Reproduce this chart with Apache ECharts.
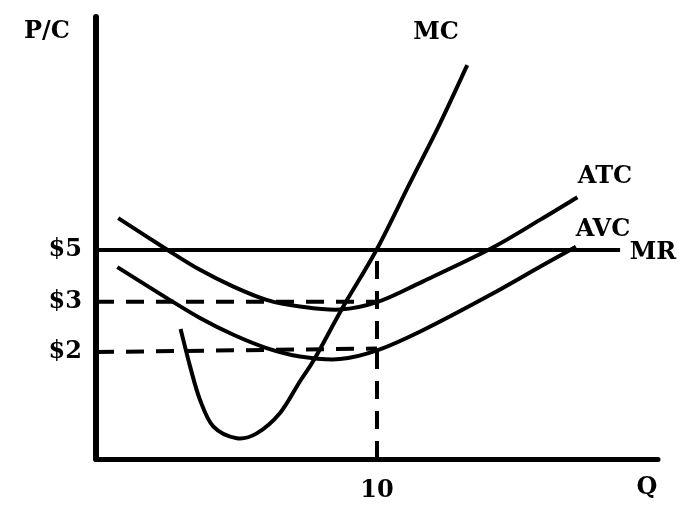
<!DOCTYPE html>
<html>
<head>
<meta charset="utf-8">
<script src="https://cdn.jsdelivr.net/npm/echarts@6/dist/echarts.min.js"></script>
<style>html,body{margin:0;padding:0;background:#fff;}#c{width:697px;height:526px;}</style>
</head>
<body>
<div id="c"></div>
<script>
// Schematic cost diagram: Q in units 0..20, cost level in schematic units 0..10
const mcQ  = [3.01, 3.35, 3.70, 4.18, 5.01, 5.72, 6.55, 7.26, 7.79, 8.80, 9.99, 11.17, 12.24, 13.21];
const mcC  = [2.94, 2.09, 1.34, 0.73, 0.47, 0.58, 1.04, 1.76, 2.28, 3.45, 4.74, 6.24, 7.59, 8.91];
const atcQ = [0.79, 2.52, 3.70, 4.89, 6.07, 7.26, 8.68, 10.05, 11.64, 14.02, 15.80, 17.13];
const atcC = [5.45, 4.74, 4.28, 3.90, 3.60, 3.45, 3.38, 3.56, 4.02, 4.75, 5.41, 5.92];
const avcQ = [0.76, 2.52, 3.70, 4.89, 6.07, 7.26, 8.68, 10.05, 11.65, 14.02, 15.80, 17.08];
const avcC = [4.34, 3.64, 3.19, 2.81, 2.51, 2.32, 2.26, 2.47, 2.92, 3.71, 4.35, 4.80];
const mrQ  = [0, 18.65];
const mrC  = [4.73, 4.73];
const p3Q  = [0, 10];
const p3C  = [3.56, 3.56];
const p2Q  = [0, 10];
const p2C  = [2.42, 2.50];
const q10Q = [10, 10];
const q10C = [0, 4.73];
const priceLevels = [4.73, 3.56, 2.43];
const priceLabels = ['$5', '$3', '$2'];
const qTicks = [10];
const qLabels = ['10'];

const zip = (a, b) => a.map((v, i) => [v, b[i]]);
const FONT = 'DejaVu Serif';

// Smooth curve through the data points, positioned with the chart's own scales (api.coord)
const curve = (name, q, c) => ({
  name, type: 'custom', silent: true, clip: false,
  data: [[q[0], c[0]]],
  renderItem: (params, api) => {
    const pts = q.map((v, i) => api.coord([v, c[i]]));
    let d = 'M' + pts[0][0] + ',' + pts[0][1];
    const t = 1 / 6;
    for (let i = 0; i < pts.length - 1; i++) {
      const p0 = pts[i - 1] || pts[i], p1 = pts[i], p2 = pts[i + 1], p3 = pts[i + 2] || pts[i + 1];
      const c1x = p1[0] + (p2[0] - p0[0]) * t, c1y = p1[1] + (p2[1] - p0[1]) * t;
      const c2x = p2[0] - (p3[0] - p1[0]) * t, c2y = p2[1] - (p3[1] - p1[1]) * t;
      d += ' C' + c1x + ',' + c1y + ' ' + c2x + ',' + c2y + ' ' + p2[0] + ',' + p2[1];
    }
    return {
      type: 'path',
      shape: { pathData: d },
      style: { fill: null, stroke: '#000', lineWidth: 4 }
    };
  }
});
const straight = (name, q, c) => ({
  name, type: 'line', data: zip(q, c), showSymbol: false, symbol: 'none',
  lineStyle: { color: '#000', width: 4, type: 'solid' }, silent: true
});
const dashed = (name, q, c) => ({
  name, type: 'line', data: zip(q, c), showSymbol: false, symbol: 'none',
  lineStyle: { color: '#000', width: 4, type: [18, 12] }, silent: true
});

const chart = echarts.init(document.getElementById('c'), null, { renderer: 'canvas' });
const txt = (text, x, y) => ({
  type: 'text',
  style: { text, x, y, align: 'center', verticalAlign: 'middle', font: 'bold 24px "DejaVu Serif"', fill: '#000' }
});
chart.setOption({
  animation: false,
  backgroundColor: '#fff',
  grid: { left: 96, top: 17, width: 562, height: 442 },
  xAxis: {
    type: 'value', min: 0, max: 20,
    axisLine: { show: true, lineStyle: { color: '#000', width: 5 } },
    axisTick: { show: false },
    splitLine: { show: false },
    axisLabel: {
      customValues: qTicks,
      formatter: v => qLabels[qTicks.indexOf(v)] || '',
      color: '#000', fontFamily: FONT, fontWeight: 'bold', fontSize: 24, margin: 20
    }
  },
  yAxis: {
    type: 'value', min: 0, max: 10,
    axisLine: { show: true, lineStyle: { color: '#000', width: 6 } },
    axisTick: { show: false },
    splitLine: { show: false },
    axisLabel: {
      customValues: priceLevels,
      formatter: v => priceLabels[priceLevels.indexOf(v)] || '',
      color: '#000', fontFamily: FONT, fontWeight: 'bold', fontSize: 24, margin: 14
    }
  },
  series: [
    dashed('P3', p3Q, p3C),
    dashed('P2', p2Q, p2C),
    dashed('Q10', q10Q, q10C),
    straight('MR', mrQ, mrC),
    curve('ATC', atcQ, atcC),
    curve('AVC', avcQ, avcC),
    curve('MC', mcQ, mcC)
  ],
  graphic: [
    txt('P/C', 47, 32),
    txt('MC', 436, 33),
    txt('ATC', 605, 177),
    txt('AVC', 603, 230),
    txt('MR', 653, 253),
    txt('Q', 647, 488)
  ]
});
</script>
</body>
</html>
